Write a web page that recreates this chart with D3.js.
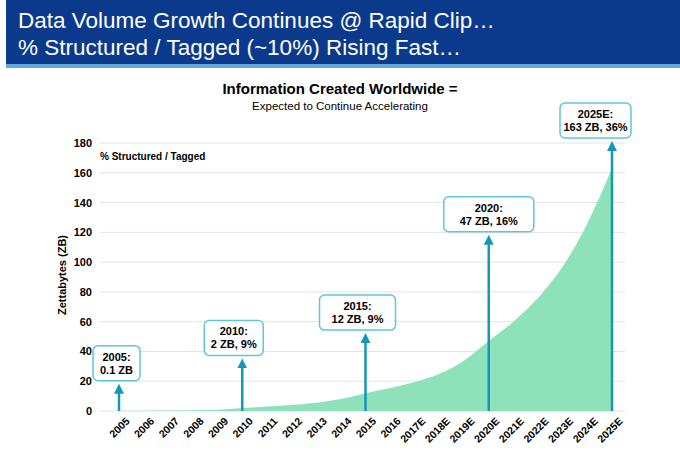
<!DOCTYPE html>
<html><head><meta charset="utf-8">
<script src="https://cdn.jsdelivr.net/npm/d3@7"></script>
<style>body{margin:0;background:#fff;font-family:"Liberation Sans",Arial,sans-serif}</style>
</head><body><svg id="c" width="680" height="471"></svg>
<script>
var years = ["2005","2006","2007","2008","2009","2010","2011","2012","2013","2014","2015","2016","2017E","2018E","2019E","2020E","2021E","2022E","2023E","2024E","2025E"];
var zettabytes = [0.1,0.2,0.3,0.5,0.8,2,3,4,5.5,8,12,15.5,19.5,25,34,47,60,76,97,126,163];
var yTicks = [0,20,40,60,80,100,120,140,160,180];
// callouts: year, arrow top (ZB), text lines
var calloutYears = ["2005","2010","2015","2020E","2025E"];
var calloutTops = [17,34,51,117,180];
var calloutText = [["2005:","0.1 ZB"],["2010:","2 ZB, 9%"],["2015:","12 ZB, 9%"],["2020:","47 ZB, 16%"],["2025E:","163 ZB, 36%"]];
var calloutBox = [[-26,47],[-38,59],[-46,76],[-45,90],[-52,71]]; // x offset, width

var svg = d3.select("#c");

// header band
svg.append("rect").attr("x",6).attr("y",0).attr("width",674).attr("height",64).attr("fill","#0b3a8d");
svg.append("rect").attr("x",6).attr("y",64).attr("width",674).attr("height",4).attr("fill","#5fa8dc");
svg.append("text").attr("x",18).attr("y",28).attr("fill","#fff").attr("font-size",22.5).text("Data Volume Growth Continues @ Rapid Clip…");
svg.append("text").attr("x",18).attr("y",55).attr("fill","#fff").attr("font-size",22.5).text("% Structured / Tagged (~10%) Rising Fast…");

svg.append("text").attr("x",340).attr("y",94).attr("text-anchor","middle").attr("font-weight","bold").attr("font-size",15).text("Information Created Worldwide =");
svg.append("text").attr("x",340).attr("y",110).attr("text-anchor","middle").attr("font-size",11.5).text("Expected to Continue Accelerating");

var x = d3.scalePoint().domain(years).range([119,612]);
var y = d3.scaleLinear().domain([0,180]).range([411,143]);

var g = svg.append("g");
g.selectAll("line.grid").data(yTicks).enter().append("line")
  .attr("x1",100).attr("x2",625).attr("y1",d=>y(d)).attr("y2",d=>y(d))
  .attr("stroke","#e3e3e3").attr("stroke-width",1);

var area = d3.area().x((d,i)=>x(years[i])).y0(y(0)).y1(d=>y(d)).curve(d3.curveMonotoneX);
g.append("path").datum(zettabytes).attr("d",area).attr("fill","#8ee2bb");

var yAxis = svg.append("g").attr("transform","translate(100,0)")
  .call(d3.axisLeft(y).tickValues(yTicks).tickSize(0).tickPadding(8));
yAxis.select(".domain").remove();
yAxis.selectAll("text").attr("font-size",11).attr("font-weight","bold").attr("font-family","Liberation Sans, Arial");

var xAxis = svg.append("g").attr("transform","translate(0,"+y(0)+")")
  .call(d3.axisBottom(x).tickSize(0).tickPadding(6));
xAxis.select(".domain").remove();
xAxis.selectAll("text").attr("font-size",10.5).attr("font-weight","bold").attr("font-family","Liberation Sans, Arial")
  .attr("text-anchor","end").attr("dy","0.35em").attr("transform","translate(4,4) rotate(-45)");

svg.append("text").attr("transform","translate(66,275) rotate(-90)").attr("text-anchor","middle")
  .attr("font-size",11).attr("font-weight","bold").text("Zettabytes (ZB)");
svg.append("text").attr("x",100).attr("y",160).attr("font-size",10).attr("font-weight","bold").text("% Structured / Tagged");

var defs = svg.append("defs");
defs.append("marker").attr("id","ah").attr("viewBox","0 0 10 10").attr("refX",5).attr("refY",5)
  .attr("markerWidth",4).attr("markerHeight",4).attr("orient","auto")
  .append("path").attr("d","M0,0L10,5L0,10z").attr("fill","#1497b8");

calloutYears.forEach(function(yr,i){
  var cx = x(yr), top = y(calloutTops[i]);
  svg.append("line").attr("x1",cx).attr("x2",cx).attr("y1",y(0)).attr("y2",top+3)
    .attr("stroke","#1497b8").attr("stroke-width",2.5).attr("marker-end","url(#ah)");
  var bx = cx + calloutBox[i][0], bw = calloutBox[i][1], bh = 35, by = top - bh - 5;
  svg.append("rect").attr("x",bx).attr("y",by).attr("width",bw).attr("height",bh).attr("rx",5)
    .attr("fill","#fff").attr("stroke","#5cc8dc").attr("stroke-width",1.5);
  calloutText[i].forEach(function(t,j){
    svg.append("text").attr("x",bx+bw/2).attr("y",by+15+j*13).attr("text-anchor","middle")
      .attr("font-size",11).attr("font-weight","bold").text(t);
  });
});
</script></body></html>
